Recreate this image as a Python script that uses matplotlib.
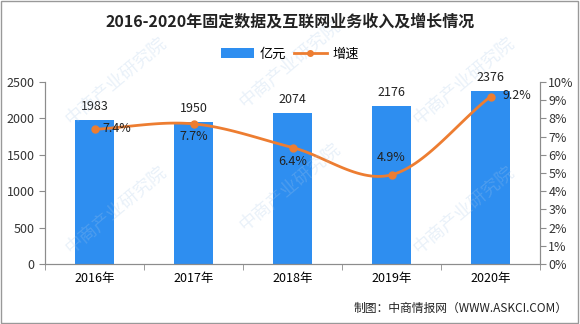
import matplotlib.pyplot as plt
import numpy as np

plt.rcParams['font.family'] = ['Noto Sans CJK SC', 'DejaVu Sans']

years = ['2016年', '2017年', '2018年', '2019年', '2020年']
revenue = [1983, 1950, 2074, 2176, 2376]
growth = [7.4, 7.7, 6.4, 4.9, 9.2]

BAR_COLOR = '#2e8ef0'
LINE_COLOR = '#ed7d31'
AXIS_COLOR = '#8c8c8c'


def smooth(xs, ys, n=30):
    # catmull-rom curve through the points, like excel's smoothed line
    xs = np.asarray(xs, float)
    ys = np.asarray(ys, float)
    px = np.concatenate([[2 * xs[0] - xs[1]], xs, [2 * xs[-1] - xs[-2]]])
    py = np.concatenate([[2 * ys[0] - ys[1]], ys, [2 * ys[-1] - ys[-2]]])
    out_x, out_y = [], []
    for i in range(1, len(px) - 2):
        t = np.linspace(0, 1, n)
        for p, out in ((px, out_x), (py, out_y)):
            p0, p1, p2, p3 = p[i - 1], p[i], p[i + 1], p[i + 2]
            out.extend(0.5 * (2 * p1 + (-p0 + p2) * t
                              + (2 * p0 - 5 * p1 + 4 * p2 - p3) * t ** 2
                              + (-p0 + 3 * p1 - 3 * p2 + p3) * t ** 3))
    return out_x, out_y


fig = plt.figure(figsize=(5.8, 3.24), dpi=100)
ax = fig.add_axes([45 / 580, 60 / 324, 495 / 580, 182 / 324])
ax2 = ax.twinx()

x = np.arange(len(years))
ax.bar(x, revenue, width=0.4, color=BAR_COLOR, label='亿元', zorder=2)
for xi, v in zip(x, revenue):
    ax.text(xi, v + 90, str(v), ha='center', va='bottom', fontsize=9, color='#222222')

ax.set_xlim(-0.5, len(years) - 0.5)
ax.set_ylim(0, 2500)
ax.set_yticks(np.arange(0, 2501, 500))
ax.set_xticks(x)
ax.set_xticklabels(years)
ax.set_xticks(np.arange(-0.5, len(years), 1), minor=True)
ax.tick_params(axis='x', which='major', length=0, labelsize=9, pad=6)
ax.tick_params(axis='x', which='minor', length=4, color=AXIS_COLOR, direction='out')
ax.tick_params(axis='y', length=4, color=AXIS_COLOR, labelsize=9, labelcolor='#333333')

sx, sy = smooth(x, growth)
ax2.plot(sx, sy, color=LINE_COLOR, lw=2, zorder=3)
ax2.plot(x, growth, 'o', color=LINE_COLOR, ms=5, zorder=4)
ax2.plot([], [], color=LINE_COLOR, lw=2, marker='o', ms=4, label='增速')
ax2.set_ylim(0, 10)
ax2.set_yticks(np.arange(0, 11, 1))
ax2.set_yticklabels([f'{v}%' for v in range(11)])
ax2.tick_params(axis='y', length=4, color=AXIS_COLOR, labelsize=9, labelcolor='#333333', pad=2)

# percentage labels, placed around each point
offsets = [(0.08, 0.05, 'left', 'center'), (0, -0.7, 'center', 'center'),
           (0, -0.75, 'center', 'center'), (0, 0.95, 'center', 'center'),
           (0.12, 0.05, 'left', 'center')]
for xi, g, (dx, dy, ha, va) in zip(x, growth, offsets):
    ax2.text(xi + dx, g + dy, f'{g}%', ha=ha, va=va, fontsize=9, color='#222222', zorder=5)

for a in (ax, ax2):
    a.spines['top'].set_visible(False)
    for s in ('left', 'right', 'bottom'):
        a.spines[s].set_color(AXIS_COLOR)

fig.text(0.5, 1 - 22 / 324, '2016-2020年固定数据及互联网业务收入及增长情况',
         ha='center', va='center', fontsize=11.5, fontweight='bold', color='#222222')

h1, l1 = ax.get_legend_handles_labels()
h2, l2 = ax2.get_legend_handles_labels()
fig.legend(h1 + h2, l1 + l2, loc='center', bbox_to_anchor=(0.5, 1 - 54 / 324), ncol=2,
           frameon=False, fontsize=9.5, handlelength=2.5, columnspacing=0.6, handletextpad=0.4)

fig.text(1 - 12 / 580, 1 - 308 / 324, '制图：中商情报网（WWW.ASKCI.COM）',
         ha='right', va='center', fontsize=8.5, color='#222222')

# faint diagonal watermark
for wx, wy in [(0.2, 0.75), (0.5, 0.8), (0.8, 0.75), (0.2, 0.35),
               (0.5, 0.42), (0.8, 0.35)]:
    fig.text(wx, wy, '中商产业研究院', rotation=40, fontsize=13, color='#a9c8e8',
             alpha=0.25, ha='center', va='center', zorder=0)

fig.patches.append(plt.Rectangle((0.002, 0.003), 0.995, 0.994, transform=fig.transFigure,
                                 fill=False, edgecolor='#999999', lw=1))

fig.savefig('out.png', dpi=100)
